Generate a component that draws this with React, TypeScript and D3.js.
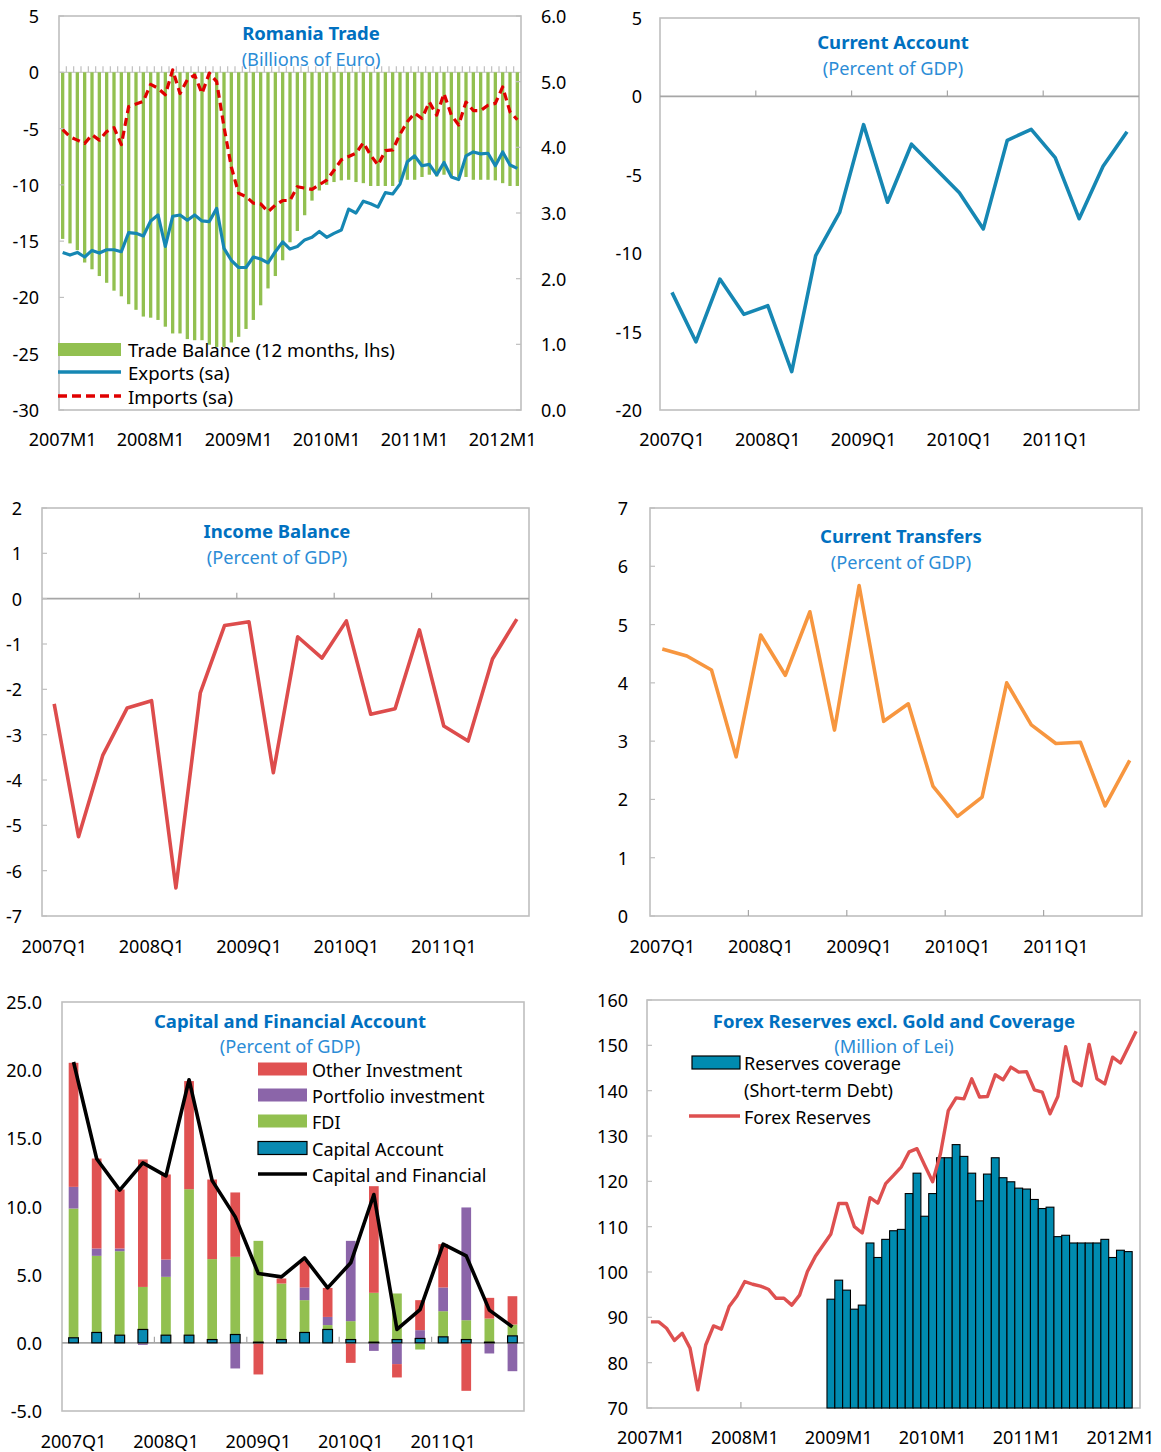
import React from 'react';
import * as d3 from 'd3';

const FONT = "'Noto Sans', 'Open Sans', sans-serif";
const TITLE_BLUE = '#0070C0';
const SUB_BLUE = '#2B8CD6';
const FRAME = '#BFBFBF';
const AXIS = '#A6A6A6';

// ---------- categories ----------
const yearsList = [2007, 2008, 2009, 2010, 2011, 2012];
const allMonths: string[] = [];
yearsList.forEach((y) => { for (let m = 1; m <= 12; m++) allMonths.push(`${y}M${m}`); });
const months = allMonths.slice(0, 63); // 2007M1 .. 2012M3
const allQuarters: string[] = [];
yearsList.forEach((y) => { for (let q = 1; q <= 4; q++) allQuarters.push(`${y}Q${q}`); });
const quarters = allQuarters.slice(0, 20); // 2007Q1 .. 2011Q4

const monthTickLabels = ['2007M1', '2008M1', '2009M1', '2010M1', '2011M1', '2012M1'];
const quarterTickLabels = ['2007Q1', '2008Q1', '2009Q1', '2010Q1', '2011Q1'];

// ---------- Romania Trade ----------
const tradeBalance = [
  -14.8, -15.2, -15.8, -16.9, -17.5, -18.1, -18.7, -19.4, -19.9, -20.6,
  -21.1, -21.7, -21.8, -22.0, -22.6, -23.2, -23.2, -23.7, -23.8, -23.8,
  -24.2, -24.4, -24.4, -24.0, -23.5, -22.8, -22.0, -20.7, -19.2, -18.1,
  -16.7, -15.1, -14.1, -12.7, -11.4, -10.5, -10.0, -9.75, -9.6, -9.55,
  -9.75, -9.85, -10.1, -10.1, -10.1, -10.1, -9.75, -9.55, -9.55, -9.3,
  -9.1, -9.25, -9.1, -9.3, -9.3, -9.3, -9.55, -9.55, -9.55, -9.6,
  -9.85, -10.1, -10.1,
];
const exportsSa = [
  2.40, 2.36, 2.40, 2.33, 2.43, 2.39, 2.44, 2.44, 2.41, 2.70,
  2.69, 2.65, 2.88, 2.97, 2.49, 2.95, 2.97, 2.89, 2.97, 2.88,
  2.87, 3.07, 2.46, 2.28, 2.17, 2.17, 2.33, 2.30, 2.24, 2.41,
  2.56, 2.45, 2.49, 2.59, 2.63, 2.72, 2.63, 2.69, 2.74, 3.06,
  3.00, 3.18, 3.14, 3.09, 3.31, 3.29, 3.44, 3.78, 3.87, 3.72,
  3.74, 3.58, 3.77, 3.55, 3.51, 3.87, 3.93, 3.90, 3.91, 3.72,
  3.93, 3.73, 3.68,
];
const importsSa = [
  4.27, 4.16, 4.11, 4.06, 4.19, 4.11, 4.24, 4.30, 4.04, 4.62,
  4.66, 4.70, 4.96, 4.90, 4.80, 5.18, 4.82, 5.03, 5.10, 4.82,
  5.13, 5.00, 4.31, 3.70, 3.30, 3.25, 3.15, 3.14, 3.02, 3.12,
  3.19, 3.19, 3.40, 3.38, 3.36, 3.43, 3.50, 3.65, 3.81, 3.86,
  3.91, 4.07, 3.88, 3.73, 3.95, 3.96, 4.20, 4.39, 4.52, 4.44,
  4.69, 4.49, 4.82, 4.49, 4.34, 4.69, 4.56, 4.56, 4.64, 4.67,
  4.92, 4.54, 4.42,
];
const tradeLeftTicks = [5, 0, -5, -10, -15, -20, -25, -30];
const tradeRightTicks = [6, 5, 4, 3, 2, 1, 0];

// ---------- quarterly series ----------
const currentAccount = [-12.5, -15.65, -11.65, -13.9, -13.35, -17.55, -10.15, -7.4, -1.8, -6.75,
  -3.05, -4.6, -6.15, -8.45, -2.8, -2.1, -3.9, -7.8, -4.45, -2.25];
const caTicks = [5, 0, -5, -10, -15, -20];

const incomeBalance = [-2.32, -5.25, -3.45, -2.41, -2.25, -6.38, -2.08, -0.59, -0.51, -3.84,
  -0.84, -1.31, -0.49, -2.55, -2.43, -0.69, -2.81, -3.14, -1.33, -0.45];
const incomeTicks = [2, 1, 0, -1, -2, -3, -4, -5, -6, -7];

const currentTransfers = [4.58, 4.46, 4.22, 2.73, 4.82, 4.13, 5.22, 3.19, 5.67, 3.34,
  3.64, 2.23, 1.71, 2.04, 4.0, 3.28, 2.96, 2.98, 1.89, 2.67];
const transferTicks = [7, 6, 5, 4, 3, 2, 1, 0];

// ---------- Capital and Financial Account ----------
const capitalAccount = [0.37, 0.76, 0.56, 0.98, 0.56, 0.56, 0.24, 0.61, 0.05, 0.24,
  0.76, 0.98, 0.24, 0.05, 0.24, 0.32, 0.44, 0.24, 0.05, 0.51];
const fdi = [9.48, 5.62, 6.16, 3.12, 4.28, 10.71, 5.90, 5.70, 7.43, 4.11,
  2.37, 0.32, 1.35, 3.62, 3.38, -0.49, 1.88, 1.42, 1.73, 0.83];
const portfolioInv = [1.59, 0.54, 0.20, -0.15, 1.27, 0, 0, -1.88, 0, 0,
  0.93, 0.60, 5.89, -0.59, -1.56, 0.61, 1.74, 8.27, -0.78, -2.08];
const otherInv = [9.10, 6.60, 4.33, 9.35, 6.24, 7.93, 5.84, 4.72, -2.32, 0.37,
  1.95, 2.13, -1.47, 7.82, -0.98, 2.20, 3.18, -3.52, 1.52, 2.08];
const capFinTotal = [20.6, 13.5, 11.2, 13.2, 12.25, 19.3, 11.9, 9.24, 5.08, 4.84,
  6.23, 4.03, 5.87, 10.88, 0.98, 2.44, 7.24, 6.38, 2.4, 1.17];
const capTicks = [25, 20, 15, 10, 5, 0, -5];

// ---------- Forex reserves ----------
const forexReserves = [
  89.0, 89.0, 87.6, 84.9, 86.5, 83.2, 74.0, 83.9, 88.1, 87.4,
  92.4, 94.7, 97.9, 97.3, 96.9, 96.2, 94.2, 94.2, 92.7, 94.9,
  100.1, 103.4, 105.9, 108.4, 115.1, 115.1, 110.0, 108.6, 116.4, 115.2,
  119.5, 121.3, 123.2, 126.5, 127.2, 123.5, 119.9, 126.1, 135.6, 138.4,
  138.2, 142.6, 138.6, 138.7, 143.5, 142.4, 145.2, 144.1, 144.2, 140.2,
  139.7, 134.9, 138.7, 149.7, 142.2, 141.1, 150.2, 142.6, 141.5, 147.4,
  146.1, 149.6, 153.1,
];
const coverageMonths = allMonths.slice(23, 62); // 2008M12 .. 2012M2
const reservesCoverage = [
  94.0, 98.2, 96.0, 91.8, 92.7, 106.4, 103.2, 107.2, 109.1, 109.4,
  117.3, 121.8, 112.3, 117.3, 125.2, 125.2, 128.1, 125.5, 121.8, 115.7,
  121.6, 125.2, 120.8, 119.9, 118.5, 118.3, 116.0, 114.0, 114.3, 107.8,
  108.1, 106.4, 106.4, 106.4, 106.4, 107.2, 103.2, 104.8, 104.5,
];
const forexTicks = [160, 150, 140, 130, 120, 110, 100, 90, 80, 70];

// ---------- helpers ----------
const TICK_FS = 18;
const LEG_FS = 18;
const txt = (x: number, y: number, s: string, anchor: string, fs: number = TICK_FS) => (
  <text x={x} y={y} textAnchor={anchor} dominantBaseline="central" fontFamily={FONT} fontSize={fs} fill="#000">{s}</text>
);

function Titles({ x, y1, y2, title, sub }: any) {
  return (
    <g>
      <text x={x} y={y1} textAnchor="middle" dominantBaseline="central" fontFamily={FONT} fontSize={18.5} fontWeight="bold" fill={TITLE_BLUE}>{title}</text>
      <text x={x} y={y2} textAnchor="middle" dominantBaseline="central" fontFamily={FONT} fontSize={18.2} fill={SUB_BLUE}>{sub}</text>
    </g>
  );
}

function Frame({ x0, y0, x1, y1 }: any) {
  return <rect x={x0} y={y0} width={x1 - x0} height={y1 - y0} fill="none" stroke={FRAME} strokeWidth={1.6} />;
}

function YLabels({ scale, ticks, x, fmt, innerX, inner }: any) {
  return (
    <g>
      {ticks.map((t: number) => (
        <g key={t}>
          {txt(x, scale(t), fmt(t), 'end')}
          {inner !== 0 && innerX !== undefined && (
            <line x1={innerX} x2={innerX + inner} y1={scale(t)} y2={scale(t)} stroke={FRAME} strokeWidth={1.2} />
          )}
        </g>
      ))}
    </g>
  );
}

function YearTicks({ xs, labels, y, len }: any) {
  const step = xs.step();
  return (
    <g>
      {labels.slice(1).map((l: string) => {
        const cx = (xs(l) as number) + xs.bandwidth() / 2 - step / 2;
        return <line key={l} x1={cx} x2={cx} y1={y} y2={y - len} stroke={AXIS} strokeWidth={1.2} />;
      })}
    </g>
  );
}

function XLabels({ xs, labels, y }: any) {
  return <g>{labels.map((l: string) => <g key={l}>{txt((xs(l) as number) + xs.bandwidth() / 2, y, l, 'middle')}</g>)}</g>;
}

function QuarterLinePanel({ x0, x1, y0, y1, domain, ticks, labelX, values, color, title, sub, titleX, t1, t2, zero, inner, labelY }: any) {
  const xs = d3.scaleBand<string>().domain(quarters).range([x0, x1]).padding(0);
  const ys = d3.scaleLinear().domain(domain).range([y1, y0]);
  const line = d3.line<number>().x((_, i) => (xs(quarters[i]) as number) + xs.bandwidth() / 2).y((d) => ys(d));
  const axisY = zero ? ys(0) : y1;
  return (
    <g>
      <Frame x0={x0} y0={y0} x1={x1} y1={y1} />
      {zero && <line x1={x0} x2={x1} y1={ys(0)} y2={ys(0)} stroke={AXIS} strokeWidth={1.6} />}
      <YearTicks xs={xs} labels={quarterTickLabels} y={axisY} len={6} />
      <YLabels scale={ys} ticks={ticks} x={labelX} fmt={(t: number) => `${t}`} innerX={x0} inner={inner} />
      <XLabels xs={xs} labels={quarterTickLabels} y={labelY} />
      <Titles x={titleX} y1={t1} y2={t2} title={title} sub={sub} />
      <path d={line(values) as string} fill="none" stroke={color} strokeWidth={3.6} strokeLinejoin="round" />
    </g>
  );
}

function TradePanel() {
  const x0 = 59, x1 = 521, y0 = 16, y1 = 410;
  const xs = d3.scaleBand<string>().domain(months).range([x0, x1]).paddingInner(0.55).paddingOuter(0.275);
  const yl = d3.scaleLinear().domain([-30, 5]).range([y1, y0]);
  const yr = d3.scaleLinear().domain([0, 6]).range([y1, y0]);
  const cx = (i: number) => (xs(months[i]) as number) + xs.bandwidth() / 2;
  const exLine = d3.line<number>().x((_, i) => cx(i)).y((d) => yr(d));
  const imLine = d3.line<number>().x((_, i) => cx(i)).y((d) => yr(d));
  const step = xs.step();
  return (
    <g>
      <Frame x0={x0} y0={y0} x1={x1} y1={y1} />
      {months.map((m, i) => {
        const bx = cx(i) - step / 2;
        return i === 0 ? null : <line key={'t' + m} x1={bx} x2={bx} y1={yl(0)} y2={yl(0) - 6} stroke={FRAME} strokeWidth={1.2} />;
      })}
      <line x1={x0} x2={x1} y1={yl(0)} y2={yl(0)} stroke={FRAME} strokeWidth={1} />
      {tradeBalance.map((v, i) => (
        <rect key={months[i]} x={xs(months[i])} y={yl(0)} width={xs.bandwidth()} height={yl(v) - yl(0)} fill="#92C050" />
      ))}
      {tradeLeftTicks.map((t) => (
        <g key={'l' + t}>
          {txt(39, yl(t), `${t}`, 'end')}
          <line x1={x0} x2={x0 + 5} y1={yl(t)} y2={yl(t)} stroke={FRAME} strokeWidth={1.2} />
        </g>
      ))}
      {tradeRightTicks.map((t) => (
        <g key={'r' + t}>
          {txt(541, yr(t), t.toFixed(1), 'start')}
          <line x1={x1} x2={x1 - 5} y1={yr(t)} y2={yr(t)} stroke={FRAME} strokeWidth={1.2} />
        </g>
      ))}
      <XLabels xs={xs} labels={monthTickLabels} y={439} />
      <Titles x={311} y1={32} y2={59} title="Romania Trade" sub="(Billions of Euro)" />
      <path d={exLine(exportsSa) as string} fill="none" stroke="#1687B3" strokeWidth={3.2} strokeLinejoin="round" />
      <path d={imLine(importsSa) as string} fill="none" stroke="#E00000" strokeWidth={3.2} strokeDasharray="8,5" strokeLinejoin="round" />
      {/* legend */}
      <rect x={58} y={343} width={63} height={13} fill="#92C050" />
      {txt(128, 349.5, 'Trade Balance (12 months, lhs)', 'start', 18.6)}
      <line x1={58} x2={121} y1={372} y2={372} stroke="#1687B3" strokeWidth={3.5} />
      {txt(128, 372.5, 'Exports (sa)', 'start', 18.6)}
      <line x1={58} x2={121} y1={396} y2={396} stroke="#E00000" strokeWidth={3.5} strokeDasharray="9,5" />
      {txt(128, 396.5, 'Imports (sa)', 'start', 18.6)}
    </g>
  );
}

function CapitalPanel() {
  const x0 = 62, x1 = 524, y0 = 1002, y1 = 1411;
  const xs = d3.scaleBand<string>().domain(quarters).range([x0, x1]).paddingInner(0.58).paddingOuter(0.29);
  const ys = d3.scaleLinear().domain([-5, 25]).range([y1, y0]);
  const rows = quarters.map((q, i) => ({ q, cap: capitalAccount[i], fdi: fdi[i], port: portfolioInv[i], other: otherInv[i] }));
  const keys = ['cap', 'fdi', 'port', 'other'];
  const colors: any = { cap: '#0A8AB2', fdi: '#92C050', port: '#8B65A9', other: '#E05252' };
  const series = d3.stack<any>().keys(keys).offset(d3.stackOffsetDiverging)(rows);
  const cx = (i: number) => (xs(quarters[i]) as number) + xs.bandwidth() / 2;
  const line = d3.line<number>().x((_, i) => cx(i)).y((d) => ys(d));
  const legendRows = [
    { label: 'Other Investment', key: 'other', y: 1069 },
    { label: 'Portfolio investment', key: 'port', y: 1095 },
    { label: 'FDI', key: 'fdi', y: 1121 },
    { label: 'Capital Account', key: 'cap', y: 1148 },
  ];
  return (
    <g>
      <Frame x0={x0} y0={y0} x1={x1} y1={y1} />
      <YLabels scale={ys} ticks={capTicks} x={42} fmt={(t: number) => t.toFixed(1)} inner={0} />
      {series.filter((s) => s.key !== 'cap').map((s) => (
        <g key={s.key}>
          {s.map((d, i) => (
            <rect key={i} x={xs(quarters[i])} y={ys(Math.max(d[0], d[1]))} width={xs.bandwidth()}
              height={Math.abs(ys(d[0]) - ys(d[1]))} fill={colors[s.key]} />
          ))}
        </g>
      ))}
      <line x1={x0} x2={x1} y1={ys(0)} y2={ys(0)} stroke={AXIS} strokeWidth={1.6} />
      <YearTicks xs={xs} labels={quarterTickLabels} y={ys(0)} len={6} />
      {series.filter((s) => s.key === 'cap').map((s) => (
        <g key={s.key}>
          {s.map((d, i) => (
            <rect key={i} x={xs(quarters[i])} y={ys(Math.max(d[0], d[1]))} width={xs.bandwidth()}
              height={Math.abs(ys(d[0]) - ys(d[1]))} fill={colors.cap} stroke="#000" strokeWidth={1.2} />
          ))}
        </g>
      ))}
      <path d={line(capFinTotal) as string} fill="none" stroke="#000" strokeWidth={3.6} strokeLinejoin="round" />
      <XLabels xs={xs} labels={quarterTickLabels} y={1441} />
      <Titles x={290} y1={1020} y2={1046} title="Capital and Financial Account" sub="(Percent of GDP)" />
      {legendRows.map((r) => (
        <g key={r.key}>
          <rect x={258} y={r.y - 6.5} width={49} height={13} fill={colors[r.key]} stroke={r.key === 'cap' ? '#000' : 'none'} strokeWidth={1.2} />
          {txt(312, r.y + 0.5, r.label, 'start', LEG_FS)}
        </g>
      ))}
      <line x1={258} x2={307} y1={1174} y2={1174} stroke="#000" strokeWidth={3.6} />
      {txt(312, 1174.5, 'Capital and Financial', 'start', LEG_FS)}
    </g>
  );
}

function ForexPanel() {
  const x0 = 647, x1 = 1140, y0 = 1000, y1 = 1408;
  const xs = d3.scaleBand<string>().domain(months).range([x0, x1]).padding(0);
  const ys = d3.scaleLinear().domain([70, 160]).range([y1, y0]);
  const cx = (m: string) => (xs(m) as number) + xs.bandwidth() / 2;
  const line = d3.line<number>().x((_, i) => cx(months[i])).y((d) => ys(d));
  return (
    <g>
      <Frame x0={x0} y0={y0} x1={x1} y1={y1} />
      <YLabels scale={ys} ticks={forexTicks} x={628} fmt={(t: number) => `${t}`} innerX={x0} inner={5} />
      <YearTicks xs={xs} labels={monthTickLabels} y={y1} len={6} />
      {reservesCoverage.map((v, i) => (
        <rect key={coverageMonths[i]} x={xs(coverageMonths[i])} y={ys(v)} width={xs.bandwidth()} height={ys(70) - ys(v)}
          fill="#008BB0" stroke="#000" strokeWidth={1.1} />
      ))}
      <path d={line(forexReserves) as string} fill="none" stroke="#DE5050" strokeWidth={3.4} strokeLinejoin="round" />
      <XLabels xs={xs} labels={monthTickLabels} y={1437} />
      <Titles x={894} y1={1020} y2={1046} title="Forex Reserves excl. Gold and Coverage" sub="(Million of Lei)" />
      <rect x={692} y={1056} width={48} height={13} fill="#008BB0" stroke="#000" strokeWidth={1.2} />
      {txt(744, 1062.5, 'Reserves coverage', 'start', LEG_FS)}
      {txt(744, 1089.5, '(Short-term Debt)', 'start', LEG_FS)}
      <line x1={689} x2={740} y1={1116} y2={1116} stroke="#DE5050" strokeWidth={3.6} />
      {txt(744, 1116.5, 'Forex Reserves', 'start', LEG_FS)}
    </g>
  );
}

export default function App() {
  return (
    <svg width={1161} height={1452} viewBox="0 0 1161 1452" style={{ position: 'absolute', left: 0, top: 0, background: '#fff' }}>
      <rect x={0} y={0} width={1161} height={1452} fill="#fff" />
      <TradePanel />
      <QuarterLinePanel x0={660} x1={1139} y0={18} y1={410} domain={[-20, 5]} ticks={caTicks} labelX={642}
        values={currentAccount} color="#1687B3" title="Current Account" sub="(Percent of GDP)" titleX={893} t1={41} t2={68}
        zero inner={0} labelY={439} />
      <QuarterLinePanel x0={42} x1={529} y0={508} y1={916} domain={[-7, 2]} ticks={incomeTicks} labelX={22}
        values={incomeBalance} color="#DD4C4C" title="Income Balance" sub="(Percent of GDP)" titleX={277} t1={530} t2={557}
        zero inner={5} labelY={946} />
      <QuarterLinePanel x0={650} x1={1142} y0={508} y1={916} domain={[0, 7]} ticks={transferTicks} labelX={628}
        values={currentTransfers} color="#F7963F" title="Current Transfers" sub="(Percent of GDP)" titleX={901} t1={535} t2={562}
        zero={false} inner={5} labelY={946} />
      <CapitalPanel />
      <ForexPanel />
    </svg>
  );
}
